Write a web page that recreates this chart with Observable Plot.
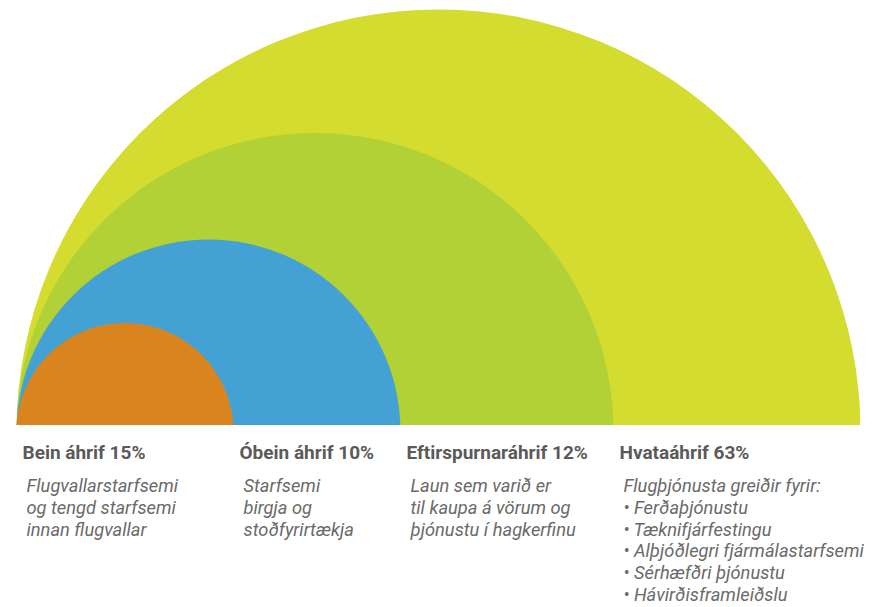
<!DOCTYPE html>
<html>
<head>
<meta charset="utf-8">
<script src="https://cdn.jsdelivr.net/npm/d3@7"></script>
<script src="https://cdn.jsdelivr.net/npm/@observablehq/plot@0.6"></script>
<style>
  html, body { margin: 0; padding: 0; background: #ffffff; }
  #chart svg { display: block; }
</style>
</head>
<body>
<div id="chart"></div>
<script>
// ---- data ----
const categories = ["Bein áhrif", "Óbein áhrif", "Eftirspurnaráhrif", "Hvataáhrif"];
const shares = [15, 10, 12, 63];
// cumulative extent of each nested semicircle
const reach = [217, 384, 597, 844];
const descriptions = [
  "Flugvallarstarfsemi\nog tengd starfsemi\ninnan flugvallar",
  "Starfsemi\nbirgja og\nstoðfyrirtækja",
  "Laun sem varið er\ntil kaupa á vörum og\nþjónustu í hagkerfinu",
  "Flugþjónusta greiðir fyrir:\n• Ferðaþjónustu\n• Tæknifjárfestingu\n• Alþjóðlegri fjármálastarfsemi\n• Sérhæfðri þjónustu\n• Hávirðisframleiðslu"
];

// ---- styles ----
const palette = ["#d9841f", "#43a2d3", "#b1d136", "#d4dc2f"];
const W = 882, H = 607;
const mL = 16, mR = 22, mT = 0, mB = 182;
const font = "Roboto, 'Open Sans', sans-serif";

const rows = categories.map((c, i) => ({
  category: c,
  share: shares[i],
  reach: reach[i],
  start: i ? reach[i - 1] : 0,
  description: descriptions[i]
}));

const plotW = W - mL - mR;
const chart = Plot.plot({
  width: W,
  height: H,
  marginLeft: mL,
  marginRight: mR,
  marginTop: mT,
  marginBottom: mB,
  style: { fontFamily: font, background: "#ffffff" },
  x: { domain: [0, d3.max(reach)], axis: null },
  y: { domain: [6, 6 + (H - mT - mB)], axis: null },
  r: { type: "linear", domain: [0, d3.max(reach)], range: [0, plotW] },
  color: { domain: categories, range: palette },
  marks: [
    Plot.dot(rows, {
      x: d => d.reach / 2,
      y: () => 0,
      r: d => d.reach / 2,
      fill: "category",
      stroke: null,
      clip: true
    }),
    Plot.text(rows, {
      x: "start",
      frameAnchor: "bottom",
      text: d => `${d.category} ${d.share}%`,
      textAnchor: "start",
      lineAnchor: "bottom",
      dx: 6,
      dy: 33,
      fontSize: 19,
      fontWeight: "bold",
      fill: "#5a5a5a",
      fontFamily: font
    }),
    Plot.text(rows, {
      x: "start",
      frameAnchor: "bottom",
      text: "description",
      textAnchor: "start",
      lineAnchor: "top",
      lineHeight: 1.19,
      dx: 10,
      dy: 51,
      fontSize: 18.3,
      fontStyle: "italic",
      fill: "#6a6a6a",
      fontFamily: font
    })
  ]
});
document.getElementById("chart").appendChild(chart);
</script>
</body>
</html>
